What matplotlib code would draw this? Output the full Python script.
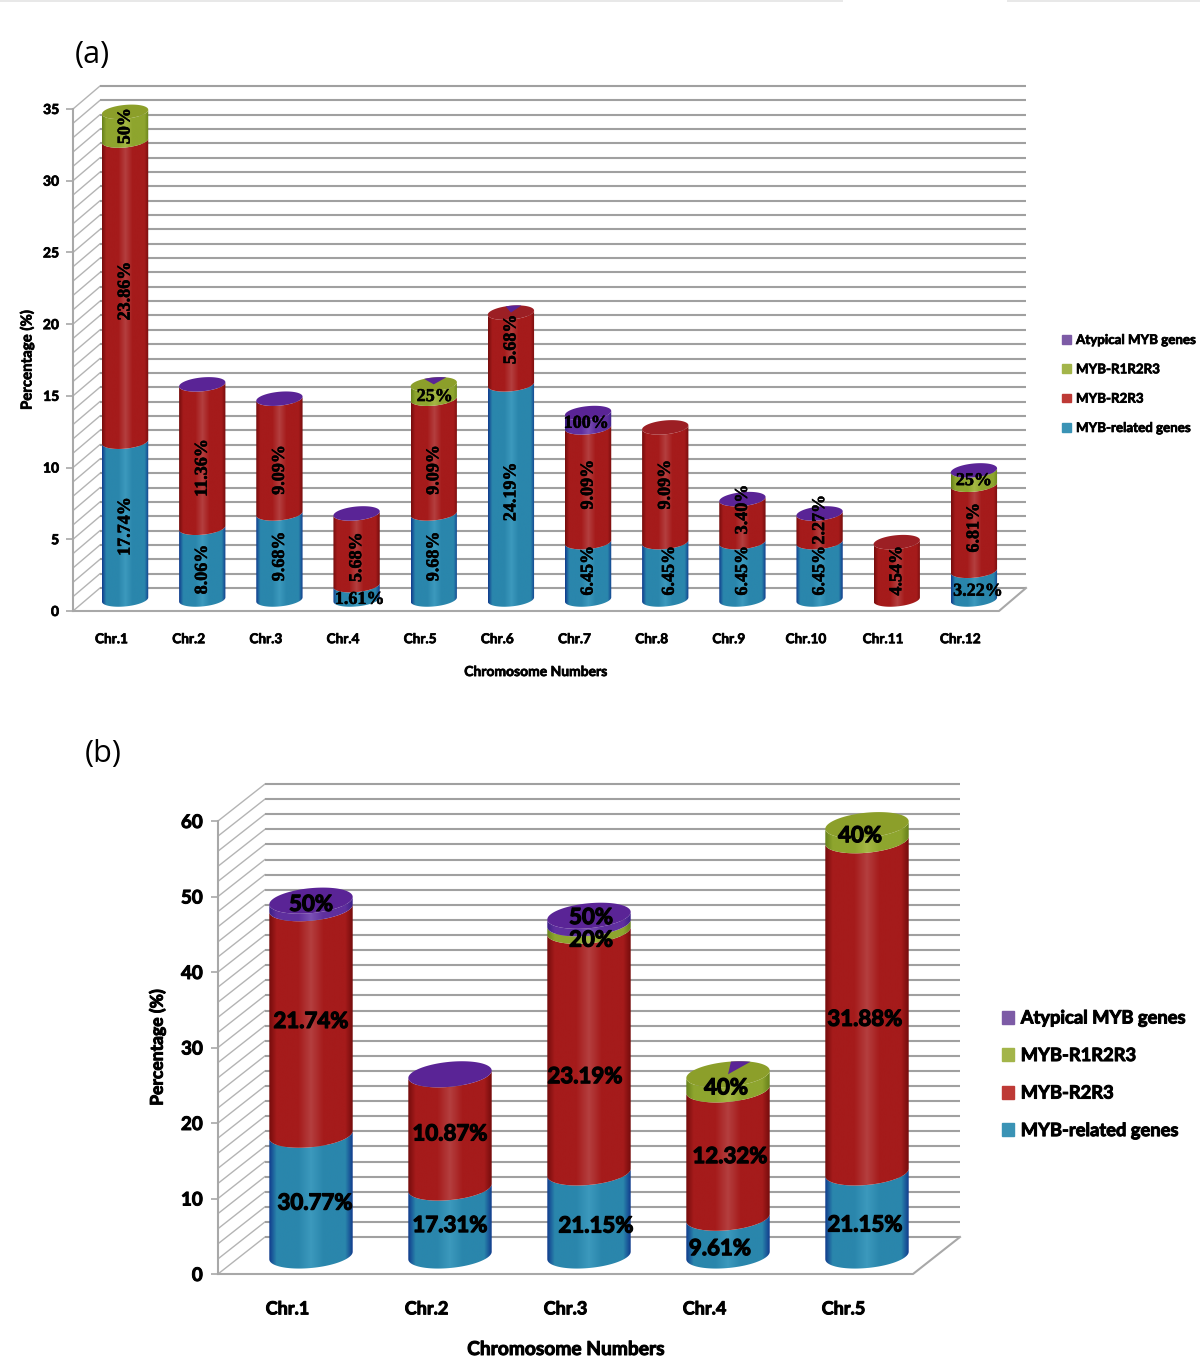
import matplotlib
matplotlib.use("Agg")
import matplotlib.pyplot as plt
import matplotlib.patheffects as pe
import numpy as np
from matplotlib.colors import LinearSegmentedColormap
from matplotlib.patches import Patch, Polygon, Rectangle

W, H = 1200, 1371

# Panel (a): gene counts per chromosome
chr_a = ["Chr.%d" % i for i in range(1, 13)]
related_a = [11, 5, 6, 1, 6, 15, 4, 4, 4, 4, 0, 2]
r2r3_a = [21, 10, 8, 5, 8, 5, 8, 8, 3, 2, 4, 6]
r1r2r3_a = [2, 0, 0, 0, 1, 0, 0, 0, 0, 0, 0, 1]
atyp_a = [0, 0, 0, 0, 0, 0, 1, 0, 0, 0, 0, 0]
lab_rel_a = ["17.74%", "8.06%", "9.68%", "1.61%", "9.68%", "24.19%", "6.45%", "6.45%", "6.45%", "6.45%", "", "3.22%"]
lab_r2_a = ["23.86%", "11.36%", "9.09%", "5.68%", "9.09%", "5.68%", "9.09%", "9.09%", "3.40%", "2.27%", "4.54%", "6.81%"]
lab_r1_a = ["50%", "", "", "", "25%", "", "", "", "", "", "", "25%"]
lab_at_a = ["", "", "", "", "", "", "100%", "", "", "", "", ""]
caps_a = ["g", "p", "p", "p", "g", "r", "p", "r", "p", "p", "r", "p"]

# Panel (b)
chr_b = ["Chr.%d" % i for i in range(1, 6)]
related_b = [16, 9, 11, 5, 11]
r2r3_b = [30, 15, 32, 17, 44]
r1r2r3_b = [0, 0, 1, 2, 2]
atyp_b = [1, 0, 1, 0, 0]
lab_rel_b = ["30.77%", "17.31%", "21.15%", "9.61%", "21.15%"]
lab_r2_b = ["21.74%", "10.87%", "23.19%", "12.32%", "31.88%"]
lab_r1_b = ["", "", "20%", "40%", "40%"]
lab_at_b = ["50%", "", "50%", "", ""]
caps_b = ["p", "p", "p", "g", "g"]

legend_names = ["Atypical MYB genes", "MYB-R1R2R3", "MYB-R2R3", "MYB-related genes"]

# small pixel nudges for labels (bar, series)
nudge_a = {(0, 0): (0, 6), (1, 0): (0, 6), (1, 1): (0, 12), (2, 1): (0, 14), (3, 1): (0, 8),
           (3, 0): (3, 7), (4, 1): (0, 14), (4, 2): (1, 5), (5, 1): (0, -9), (7, 0): (4, 0),
           (8, 1): (0, -11), (9, 1): (0, -8), (11, 0): (4, 6), (11, 2): (0, 3), (6, 3): (-2, 3)}
nudge_b = {(0, 0): (4, 8), (1, 0): (0, 4), (1, 1): (0, 3), (2, 0): (7, 12), (2, 1): (-4, 25),
           (2, 2): (2, 13), (2, 3): (2, -2), (3, 0): (-8, 12), (3, 1): (2, 3), (3, 2): (-2, 6),
           (4, 0): (-2, 11), (4, 1): (-2, 13), (4, 2): (-7, 3)}


def shade(name, edge, main, mid):
    return LinearSegmentedColormap.from_list(name, [(0, edge), (0.09, main), (0.35, main), (0.5, mid),
                                                    (0.65, main), (0.91, main), (1, edge)])


cmaps = [shade("b", "#103a8c", "#2a86ac", "#3c99bd"),
         shade("r", "#740c0c", "#a51b1b", "#b43f3f"),
         shade("g", "#66801a", "#8ea52e", "#a5b845"),
         shade("p", "#3a1f85", "#5f2f9e", "#7a50b5")]
cap_cols = {"p": "#5a2496", "g": "#8c9f2a", "r": "#9c1f24"}
leg_cols = ["#7d5ba6", "#a3b54a", "#be3a36", "#3a93b5"]

GRAD = np.linspace(0, 1, 256)[None, :]
T_LOW = np.linspace(np.pi, 2 * np.pi, 50)
TILT = 0.09


def bold(width):
    return [pe.withStroke(linewidth=width, foreground="black")]


fig = plt.figure(figsize=(W / 100, H / 100), dpi=100)
fig.add_artist(Rectangle((0, 1 - 2 / H), 843 / W, 2 / H, transform=fig.transFigure, color="#e8e8e8", lw=0))
fig.add_artist(Rectangle((1007 / W, 1 - 2 / H), 193 / W, 2 / H, transform=fig.transFigure, color="#e8e8e8", lw=0))


def panel(box, names, series, labels, caps, ymax, ystep, gstep, depth, nudge, wedges, label_style, rotate_all=False):
    left, bottom_px, right, top_px = box
    ax = fig.add_axes([left / W, 1 - bottom_px / H, (right - left) / W, (bottom_px - top_px) / H])
    n = len(names)
    xpx = (right - left) / n
    ypx = (bottom_px - top_px) / ymax
    ddx, ddy = depth[0] / xpx, depth[1] / ypx

    # walls and floor
    for g in np.arange(0, ymax + gstep / 2, gstep):
        ax.plot([0, ddx], [g, g + ddy], color="#b4b4b4", lw=1.0, clip_on=False, zorder=1)
        ax.plot([ddx, n + ddx], [g + ddy, g + ddy], color="#a0a0a0", lw=1.5, clip_on=False, zorder=1,
                solid_capstyle="butt")
    ax.plot([0, 0], [0, ymax], color="#a8a8a8", lw=1.5, clip_on=False, zorder=1)
    ax.plot([0, n, n + ddx], [0, 0, ddy], color="#a8a8a8", lw=1.5, clip_on=False, zorder=1)

    # cylinders
    half = 0.3
    a_px = half * xpx
    b_px = a_px * 0.3
    bot = np.zeros(n)
    for s, (vals, cm) in enumerate(zip(series, cmaps)):
        for i, v in enumerate(vals):
            cx = i + 0.5 + ddx / 2
            lo = bot[i] + ddy / 2
            hi = lo + v
            if v == 0:
                continue
            xs = cx + half * np.cos(T_LOW)
            dy = (b_px * np.sin(T_LOW) + TILT * a_px * np.cos(T_LOW)) / ypx
            poly = np.vstack([np.c_[xs, lo + dy], np.c_[xs[::-1], hi + dy[::-1]]])
            clip = Polygon(poly, closed=True, transform=ax.transData, fc="none", ec="none")
            ax.add_patch(clip)
            im = ax.imshow(GRAD, cmap=cm, extent=[cx - half, cx + half, lo - 2, hi + 2], aspect="auto", zorder=3, vmin=0, vmax=1)
            im.set_clip_path(clip)
        bot = bot + np.array(vals)

    # top caps
    t = np.linspace(0, 2 * np.pi, 100)
    for i in range(n):
        cx = i + 0.5 + ddx / 2
        cy = bot[i] + ddy / 2
        xs = cx + half * np.cos(t)
        ys = cy + (b_px * np.sin(t) + TILT * a_px * np.cos(t)) / ypx
        ax.add_patch(Polygon(np.c_[xs, ys], closed=True, fc=cap_cols[caps[i]], ec="none", zorder=4, clip_on=False))
        if i in wedges:
            t0, t1, col = wedges[i]
            tw = np.linspace(t0, t1, 20)
            xw = cx + half * np.cos(tw)
            yw = cy + (b_px * np.sin(tw) + TILT * a_px * np.cos(tw)) / ypx
            ax.add_patch(Polygon(np.vstack([[cx, cy], np.c_[xw, yw]]), closed=True, fc=cap_cols[col], ec="none", zorder=5))

    # value labels
    bot = np.zeros(n)
    for s, (vals, labs) in enumerate(zip(series, labels)):
        for i, v in enumerate(vals):
            if labs[i]:
                dx, dy = nudge.get((i, s), (0, 0))
                horizontal = not rotate_all or labs[i] in ("25%", "100%", "3.22%", "1.61%")
                ax.text(i + 0.5 + ddx / 2 + dx / xpx, bot[i] + ddy / 2 + v / 2 - dy / ypx, labs[i],
                        rotation=0 if horizontal else 90, ha="center", va="center", color="black",
                        zorder=6, clip_on=False, **label_style)
        bot = bot + np.array(vals)

    ax.set_xlim(0, n)
    ax.set_ylim(0, ymax)
    ax.patch.set_alpha(0)
    for sp in ax.spines.values():
        sp.set_visible(False)
    ax.set_xticks(np.arange(n) + 0.5)
    ax.set_yticks(np.arange(0, ymax + 1, ystep))
    return ax


def style_text(ax, tick_size_x, tick_size_y, xlab, ylab, width):
    for lab in ax.get_xticklabels():
        lab.set(fontsize=tick_size_x, fontweight="bold", family="Lato", path_effects=bold(width))
    for lab in ax.get_yticklabels():
        lab.set(fontsize=tick_size_y, fontweight="bold", family="Lato", path_effects=bold(width))
    ax.xaxis.label.set(fontsize=xlab, fontweight="bold", family="Lato", path_effects=bold(width))
    ax.yaxis.label.set(fontsize=ylab, fontweight="bold", family="Lato", path_effects=bold(width))


# panel (a)
ax1 = panel((73, 611, 999, 109), chr_a, [related_a, r2r3_a, r1r2r3_a, atyp_a],
            [lab_rel_a, lab_r2_a, lab_r1_a, lab_at_a], caps_a, 35, 5, 1, (27, 23), nudge_a,
            {4: (1.0, 2.0, "p"), 5: (1.1, 1.8, "p")},
            dict(family="Liberation Serif", fontweight="bold", fontsize=13, path_effects=bold(0.4)), rotate_all=True)
ax1.set_xticklabels(chr_a)
ax1.set_yticklabels(range(0, 36, 5))
ax1.tick_params(axis="x", length=0, pad=16)
ax1.tick_params(axis="y", length=5, color="#a8a8a8", width=1.2, pad=5)
ax1.set_xlabel("Chromosome Numbers", labelpad=15)
ax1.set_ylabel("Percentage (%)", labelpad=6)
style_text(ax1, 9.8, 10, 10, 10.8, 0.5)
handles = [Patch(color=c, label=l) for c, l in zip(leg_cols, legend_names)]
leg = fig.legend(handles=handles, loc="upper left", bbox_to_anchor=(1058 / W, 1 - 330 / H), frameon=False,
                 handlelength=0.65, handleheight=0.65, handletextpad=0.4, labelspacing=1.3,
                 prop=dict(family="Lato", weight="bold", size=9.6), borderpad=0.3, borderaxespad=0)
for txt in leg.get_texts():
    txt.set_path_effects(bold(0.5))

# panel (b)
ax2 = panel((218, 1274, 913, 821), chr_b, [related_b, r2r3_b, r1r2r3_b, atyp_b],
            [lab_rel_b, lab_r2_b, lab_r1_b, lab_at_b], caps_b, 60, 10, 2, (47, 37), nudge_b,
            {3: (1.0, 1.5, "p")},
            dict(family="Lato", fontweight="bold", fontsize=16, path_effects=bold(0.9)))
ax2.set_xticklabels(chr_b)
ax2.set_yticklabels(range(0, 61, 10))
ax2.tick_params(axis="x", length=0, pad=19)
ax2.tick_params(axis="y", length=5, color="#a8a8a8", width=1.2, pad=6)
ax2.set_xlabel("Chromosome Numbers", labelpad=17)
ax2.set_ylabel("Percentage (%)", labelpad=11)
style_text(ax2, 13, 13.5, 13.8, 12.6, 0.7)
handles = [Patch(color=c, label=l) for c, l in zip(leg_cols, legend_names)]
leg = fig.legend(handles=handles, loc="upper left", bbox_to_anchor=(996 / W, 1 - 1004 / H), frameon=False,
                 handlelength=0.7, handleheight=0.7, handletextpad=0.35, labelspacing=1.12,
                 prop=dict(family="Lato", weight="bold", size=13.2), borderpad=0.3, borderaxespad=0)
for txt in leg.get_texts():
    txt.set_path_effects(bold(0.7))

fig.text(75 / W, 1 - 55 / H, "(a)", fontsize=22, family="Open Sans", va="center")
fig.text(85 / W, 1 - 754 / H, "(b)", fontsize=22, family="Open Sans", va="center")

fig.savefig("out.png", dpi=100, facecolor="white")
